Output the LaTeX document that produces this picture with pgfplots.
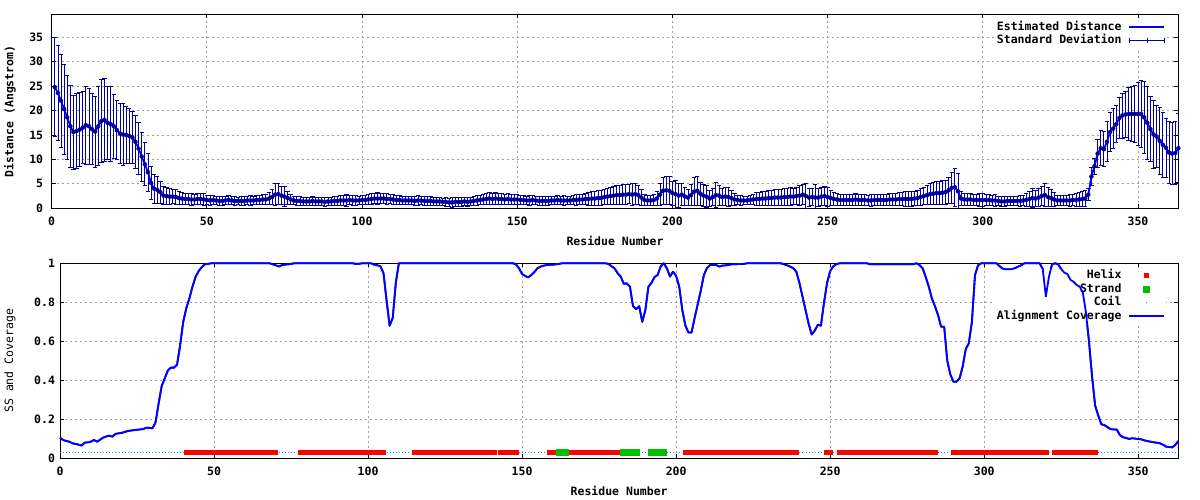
\documentclass[border=0pt]{standalone}
\usepackage{fontspec}
\setmainfont{DejaVu Sans Mono}
\usepackage{pgfplots}
\usepackage{pgfplotstable}
\pgfplotsset{compat=1.18}
\definecolor{meanc}{RGB}{0,0,255}
\definecolor{errc}{RGB}{0,0,160}
\definecolor{gridc}{RGB}{160,160,160}
\definecolor{helixc}{RGB}{255,0,0}
\definecolor{strandc}{RGB}{0,192,0}
\definecolor{coilc}{RGB}{30,144,255}
\definecolor{covc}{RGB}{0,0,255}
\newcommand\fs{\fontsize{11.5}{13}\selectfont\bfseries}
\newcommand\fm{\fontsize{11.5}{13}\selectfont\mdseries}

\pgfplotstableread{
x y e
1 24.8 10.1
2 23.6 9.8
3 22.0 9.5
4 20.3 9.2
5 18.6 8.5
6 16.8 8.4
7 15.6 7.6
8 15.8 7.7
9 16.1 7.6
10 16.5 7.4
11 17.0 8.0
12 16.8 7.8
13 16.2 7.3
14 15.7 7.3
15 16.8 8.1
16 17.8 8.5
17 18.1 8.5
18 17.5 7.5
19 17.2 7.7
20 16.8 6.5
21 16.0 6.0
22 15.3 6.2
23 15.1 6.4
24 15.0 5.9
25 14.8 5.7
26 14.5 5.3
27 13.6 5.4
28 12.2 5.3
29 10.6 5.0
30 9.0 4.4
31 7.4 3.9
32 5.2 3.3
33 4.0 2.9
34 3.8 2.8
35 3.3 2.3
36 2.6 1.8
37 2.5 1.7
38 2.4 1.6
39 2.4 1.5
40 2.3 1.6
41 2.1 1.4
42 2.0 1.2
43 1.9 1.1
44 1.9 1.2
45 1.8 1.2
46 1.8 1.1
47 1.9 1.2
48 1.9 1.1
49 1.8 1.2
50 1.7 1.0
51 1.6 1.0
52 1.7 0.9
53 1.6 0.9
54 1.5 0.9
55 1.5 1.0
56 1.6 0.9
57 1.7 1.0
58 1.6 0.9
59 1.5 0.9
60 1.5 0.8
61 1.5 0.9
62 1.5 0.9
63 1.6 0.9
64 1.6 1.0
65 1.6 0.9
66 1.7 1.0
67 1.7 1.0
68 1.8 1.1
69 1.8 1.1
70 2.0 1.3
71 2.3 1.5
72 2.8 2.2
73 2.9 2.2
74 2.6 1.8
75 2.4 2.0
76 2.1 1.3
77 1.8 1.0
78 1.6 0.9
79 1.5 0.9
80 1.5 0.9
81 1.4 0.9
82 1.4 0.8
83 1.4 0.9
84 1.5 0.9
85 1.4 0.9
86 1.4 0.8
87 1.4 0.9
88 1.3 0.9
89 1.4 0.9
90 1.4 0.8
91 1.5 0.9
92 1.5 0.9
93 1.6 1.0
94 1.6 1.0
95 1.6 1.3
96 1.7 1.0
97 1.6 1.0
98 1.6 1.0
99 1.6 0.9
100 1.7 1.0
101 1.7 1.0
102 1.8 1.1
103 1.9 1.1
104 2.0 1.1
105 2.0 1.2
106 2.0 1.1
107 2.0 1.1
108 1.9 1.1
109 1.9 1.0
110 1.8 1.0
111 1.7 1.0
112 1.7 1.0
113 1.6 0.9
114 1.6 0.9
115 1.6 0.9
116 1.6 0.9
117 1.5 0.9
118 1.6 1.0
119 1.6 0.9
120 1.5 0.9
121 1.5 0.9
122 1.5 0.9
123 1.4 0.9
124 1.4 0.9
125 1.4 0.8
126 1.3 0.8
127 1.3 0.9
128 1.2 0.9
129 1.2 1.0
130 1.3 0.9
131 1.3 0.9
132 1.3 0.9
133 1.4 0.9
134 1.3 1.0
135 1.4 0.9
136 1.5 0.9
137 1.6 1.0
138 1.7 1.0
139 1.8 1.1
140 1.9 1.2
141 2.0 1.2
142 1.9 1.2
143 2.0 1.3
144 1.9 1.2
145 1.9 1.1
146 1.8 1.1
147 1.9 1.1
148 1.8 1.0
149 1.8 1.1
150 1.8 1.0
151 1.7 1.0
152 1.7 1.0
153 1.6 0.9
154 1.6 1.0
155 1.7 1.0
156 1.6 0.9
157 1.5 0.9
158 1.5 1.0
159 1.5 0.9
160 1.5 0.9
161 1.6 0.9
162 1.6 0.9
163 1.7 1.0
164 1.6 0.9
165 1.6 1.0
166 1.6 0.9
167 1.6 0.9
168 1.7 1.0
169 1.7 1.1
170 1.8 1.1
171 1.8 1.1
172 1.9 1.2
173 1.9 1.3
174 2.0 1.4
175 2.0 1.5
176 2.1 1.5
177 2.1 1.6
178 2.3 1.6
179 2.4 1.7
180 2.5 1.8
181 2.6 1.8
182 2.7 1.9
183 2.7 1.9
184 2.8 2.0
185 2.8 2.1
186 2.9 2.0
187 2.8 2.2
188 2.9 2.1
189 2.7 2.0
190 2.2 1.6
191 1.7 1.2
192 1.6 1.1
193 1.6 1.1
194 1.7 1.2
195 2.0 1.5
196 2.8 2.2
197 3.6 2.8
198 3.7 2.9
199 3.6 2.9
200 3.1 2.5
201 2.9 2.9
202 2.6 2.5
203 2.8 2.2
204 2.4 1.8
205 2.2 1.6
206 2.7 2.2
207 3.4 2.9
208 3.6 3.0
209 3.0 2.4
210 2.6 2.2
211 2.4 2.3
212 2.0 1.7
213 2.3 1.8
214 2.7 2.5
215 2.6 2.0
216 2.3 1.7
217 2.4 1.8
218 2.3 1.9
219 2.1 1.6
220 1.8 1.2
221 1.7 1.0
222 1.6 1.0
223 1.6 0.9
224 1.6 0.9
225 1.7 1.0
226 1.8 1.1
227 1.9 1.3
228 1.9 1.4
229 2.0 1.4
230 2.0 1.5
231 2.1 1.6
232 2.1 1.6
233 2.2 1.6
234 2.2 1.7
235 2.2 1.7
236 2.3 1.8
237 2.3 1.8
238 2.4 1.8
239 2.4 1.7
240 2.5 1.8
241 2.6 2.0
242 2.8 2.1
243 2.5 2.5
244 2.2 1.9
245 2.3 1.8
246 2.2 2.7
247 2.2 1.8
248 2.4 1.9
249 2.5 2.0
250 2.3 1.9
251 2.1 1.5
252 1.9 1.3
253 1.8 1.2
254 1.7 1.2
255 1.7 1.2
256 1.7 1.1
257 1.7 1.2
258 1.7 1.2
259 1.8 1.2
260 1.7 1.2
261 1.7 1.1
262 1.7 1.2
263 1.6 1.1
264 1.6 1.2
265 1.7 1.1
266 1.7 1.1
267 1.7 1.2
268 1.7 1.1
269 1.7 1.1
270 1.8 1.2
271 1.8 1.2
272 1.8 1.3
273 1.9 1.3
274 1.9 1.4
275 1.9 1.5
276 1.9 1.5
277 1.9 1.5
278 2.0 1.5
279 2.1 1.6
280 2.3 1.7
281 2.5 1.8
282 2.7 2.0
283 2.9 2.1
284 3.0 2.3
285 3.1 2.4
286 3.1 2.4
287 3.2 2.5
288 3.3 2.5
289 3.7 2.6
290 4.2 3.2
291 4.3 3.9
292 3.5 3.7
293 2.0 1.4
294 1.8 1.2
295 1.8 1.2
296 1.8 1.2
297 1.7 1.2
298 1.7 1.2
299 1.7 1.3
300 1.7 1.3
301 1.7 1.2
302 1.7 1.2
303 1.6 1.1
304 1.6 1.2
305 1.5 1.0
306 1.4 1.0
307 1.4 1.0
308 1.5 1.0
309 1.5 1.0
310 1.5 1.0
311 1.5 1.0
312 1.5 1.1
313 1.6 1.1
314 1.7 1.3
315 1.9 1.5
316 2.1 1.9
317 2.0 1.7
318 2.2 1.8
319 2.5 2.0
320 2.7 2.4
321 2.3 1.9
322 2.1 1.7
323 1.8 1.4
324 1.6 1.1
325 1.6 1.1
326 1.6 1.1
327 1.6 1.1
328 1.6 1.2
329 1.7 1.2
330 1.7 1.3
331 1.8 1.4
332 1.9 1.5
333 2.0 1.6
334 2.8 1.2
335 6.5 1.8
336 8.6 1.7
337 11.2 2.9
338 12.3 3.6
339 12.1 3.6
340 13.6 4.1
341 15.6 4.0
342 16.3 4.1
343 17.2 3.8
344 18.5 4.2
345 19.0 4.6
346 19.2 4.7
347 19.3 5.4
348 19.3 5.7
349 19.3 5.9
350 19.3 6.5
351 19.3 6.9
352 18.6 7.4
353 17.5 7.4
354 16.2 6.7
355 15.1 6.9
356 14.7 6.4
357 13.8 6.8
358 13.0 6.6
359 12.4 6.0
360 11.4 6.3
361 11.2 6.3
362 11.3 6.5
363 12.3 7.1
}\topdata

\pgfplotstableread{
x y
0 0.106
1 0.094
2 0.089
3 0.085
4 0.077
5 0.074
6 0.070
7 0.065
8 0.080
9 0.082
10 0.085
11 0.094
12 0.085
13 0.095
14 0.106
15 0.112
16 0.116
17 0.111
18 0.125
19 0.128
20 0.130
21 0.135
22 0.140
23 0.142
24 0.145
25 0.146
26 0.148
27 0.150
28 0.157
29 0.156
30 0.154
31 0.183
32 0.280
33 0.370
34 0.410
35 0.450
36 0.465
37 0.465
38 0.480
39 0.580
40 0.700
41 0.770
42 0.820
43 0.880
44 0.930
45 0.960
46 0.980
47 0.995
48 0.997
49 1.000
68 1.000
69 0.995
70 0.990
71 0.984
72 0.990
73 0.993
74 0.995
75 0.997
76 1.000
95 1.000
96 0.997
97 0.997
98 1.000
101 1.000
102 0.993
103 0.990
104 0.985
105 0.950
106 0.810
107 0.680
108 0.720
109 0.900
110 1.000
147 1.000
148 0.995
149 0.974
150 0.945
151 0.935
152 0.928
153 0.940
154 0.955
155 0.975
156 0.983
157 0.988
158 0.991
160 0.993
162 0.997
163 1.000
177 1.000
178 0.997
179 0.985
180 0.974
181 0.949
182 0.932
183 0.895
184 0.897
185 0.880
186 0.780
187 0.765
188 0.780
189 0.700
190 0.760
191 0.880
192 0.900
193 0.930
194 0.940
195 0.985
196 1.000
197 0.974
198 0.932
199 0.957
200 0.935
201 0.880
202 0.760
203 0.680
204 0.645
205 0.645
206 0.720
207 0.790
208 0.860
209 0.940
210 0.975
211 0.991
213 0.991
214 0.983
215 0.988
217 0.991
218 0.995
222 0.997
223 1.000
234 1.000
235 0.995
236 0.990
237 0.983
238 0.975
239 0.957
240 0.900
241 0.830
242 0.760
243 0.690
244 0.635
245 0.655
246 0.685
247 0.680
248 0.800
249 0.900
250 0.960
251 0.985
252 0.995
253 1.000
262 1.000
263 0.995
277 0.995
278 1.000
279 0.991
280 0.975
281 0.930
282 0.880
283 0.820
284 0.780
285 0.735
286 0.675
287 0.675
288 0.500
289 0.430
290 0.393
291 0.393
292 0.410
293 0.470
294 0.560
295 0.590
296 0.700
297 0.940
298 0.990
299 1.000
304 1.000
305 0.985
306 0.972
307 0.969
309 0.970
310 0.975
311 0.983
312 0.990
313 1.000
318 1.000
319 0.970
320 0.830
321 0.930
322 0.995
323 1.000
324 0.995
325 0.970
326 0.952
327 0.945
328 0.915
329 0.905
330 0.889
331 0.880
332 0.850
333 0.750
334 0.600
335 0.420
336 0.270
337 0.220
338 0.175
339 0.170
340 0.160
341 0.150
342 0.148
343 0.148
344 0.120
345 0.108
346 0.105
347 0.099
348 0.103
349 0.101
350 0.099
351 0.097
352 0.092
353 0.088
354 0.085
355 0.082
356 0.080
357 0.077
358 0.070
359 0.060
360 0.058
361 0.056
362 0.068
363 0.089
}\covdata

\pgfplotsset{
  common/.style={
    scale only axis,
    anchor=south west,
    xmin=0, xmax=363,
    xtick={0,50,100,150,200,250,300,350},
    grid=major,
    grid style={gridc, dash pattern=on 2pt off 3pt, line width=0.8pt},
    tick align=inside,
    major tick length=4pt,
    tick style={black, line width=0.8pt},
    axis line style={black, line width=0.9pt},
    /pgf/number format/assume math mode=true,
    ticklabel style={font=\fs},
    xticklabel style={yshift=-5pt},
    legend plot pos=right,
    legend cell align=right,
  },
  mylegend/.style={
    legend style={draw=none, fill=white, font=\fs, inner sep=1pt, row sep=1.2pt,
      nodes={inner sep=0.5pt, text height=8.7pt, text depth=2.5pt}},
  },
  longline/.style={legend image code/.code={
    \path[draw=none, fill=none] (0pt,0pt) -- (7.3pt,0pt);
    \draw[##1] (7.3pt,0pt)--(42.3pt,0pt);}},
}
\newcommand\hseg[2]{\addplot[helixc, line width=5.5pt, line cap=rect, forget plot] coordinates {(#1,0.03) (#2,0.03)};}
\newcommand\sseg[2]{\addplot[strandc, line width=7pt, line cap=rect, forget plot] coordinates {(#1,0.03) (#2,0.03)};}
\newcommand\cseg[2]{\addplot[coilc, line width=1pt, dash pattern=on 1pt off 2.08pt, forget plot] coordinates {(#1,0.03) (#2,0.03)};}

\begin{document}
\begin{tikzpicture}
\path[use as bounding box] (0,0) rectangle (1200pt,500pt);

% ---------------- top panel ----------------
\begin{axis}[common, mylegend,
  at={(51.7pt,291.7pt)},
  width=1126.6pt, height=194pt,
  ymin=0, ymax=39.7,
  ytick={0,5,10,15,20,25,30,35},
  yticklabel style={xshift=-5pt},
  every axis x label/.style={at={(axis description cs:0.5,-0.167)}, anchor=center, font=\fs},
  every axis y label/.style={at={(axis description cs:-0.0370,0.5)}, rotate=90, anchor=center, font=\fs},
  xlabel={Residue Number},
  ylabel={Distance (Angstrom)},
  legend style={at={(0.9895,0.972)}, anchor=north east},
]
\addplot[errc, only marks, mark=none, forget plot,
  error bars/.cd, y dir=both, y explicit,
  error bar style={errc, line width=0.8pt, solid},
  error mark options={errc, rotate=90, line width=0.8pt, mark size=2.2pt}]
  table[x=x, y=y, y error=e] {\topdata};
\addplot[meanc, line width=1.8pt, line join=round, longline] table[x=x, y=y] {\topdata};
\addlegendentry{Estimated Distance}
\addlegendimage{errc, line width=0.8pt, legend image code/.code={
  \path[draw=none, fill=none] (0pt,0pt) -- (7.3pt,0pt);
  \draw[errc, line width=0.8pt] (7.3pt,0pt)--(42.3pt,0pt)
    (7.3pt,-2.7pt)--(7.3pt,2.7pt) (24.8pt,-2.7pt)--(24.8pt,2.7pt) (42.3pt,-2.7pt)--(42.3pt,2.7pt);}}
\addlegendentry{Standard Deviation}
\end{axis}

% ---------------- bottom panel ----------------
\begin{axis}[common, mylegend,
  at={(60pt,41.7pt)},
  width=1118.3pt, height=195pt,
  ymin=0, ymax=1,
  clip=false,
  ytick={0,0.2,0.4,0.6,0.8,1},
  yticklabel style={xshift=-1.5pt},
  every axis x label/.style={at={(axis description cs:0.5,-0.166)}, anchor=center, font=\fs},
  every axis y label/.style={at={(axis description cs:-0.0447,0.5)}, rotate=90, anchor=center, font=\fm},
  xlabel={Residue Number},
  ylabel={SS and Coverage},
  legend style={at={(0.9894,0.973)}, anchor=north east},
]
% coil
\cseg{0}{40}
\cseg{71}{77}
\cseg{106}{114}
\cseg{149}{158}
\cseg{188}{191}
\cseg{197}{202}
\cseg{240}{248}
\cseg{251}{252}
\cseg{285}{289}
\cseg{321}{322}
\cseg{337}{363}
% helix
\hseg{41}{70}
\hseg{78}{105}
\hseg{115}{141}
\hseg{143}{148}
\hseg{159}{160}
\hseg{165}{182}
\hseg{203}{239}
\hseg{249}{250}
\hseg{253}{284}
\hseg{290}{320}
\hseg{323}{333}
\hseg{335}{336}
% strand
\sseg{162}{164}
\sseg{183}{187}
\sseg{192}{196}
\addlegendimage{legend image code/.code={
  \path[draw=none, fill=none] (0pt,-3.5pt) rectangle (42.3pt,3.5pt);
  \fill[helixc, draw=none] (22.3pt,-2.6pt) rectangle (27.3pt,2.6pt);}}
\addlegendentry{Helix}
\addlegendimage{legend image code/.code={
  \path[draw=none, fill=none] (0pt,-3.5pt) rectangle (42.3pt,3.5pt);
  \fill[strandc, draw=none] (21.3pt,-3.3pt) rectangle (28.3pt,3.3pt);}}
\addlegendentry{Strand}
\addlegendimage{legend image code/.code={
  \path[draw=none, fill=none] (0pt,-3.5pt) rectangle (42.3pt,3.5pt);
  \fill[coilc, draw=none] (24.3pt,-0.5pt) rectangle (25.3pt,0.5pt);}}
\addlegendentry{Coil}
\addplot[covc, line width=1.8pt, line join=round, longline] table[x=x, y=y] {\covdata};
\addlegendentry{Alignment Coverage}
\end{axis}

% coverage line again, drawn over the legend as in the reference
\begin{axis}[
  at={(60pt,41.7pt)}, anchor=south west,
  scale only axis, width=1118.3pt, height=195pt,
  xmin=0, xmax=363, ymin=0, ymax=1,
  clip=false, hide axis,
]
\addplot[covc, line width=1.8pt, line join=round] table[x=x, y=y] {\covdata};
\end{axis}
\end{tikzpicture}
\end{document}
